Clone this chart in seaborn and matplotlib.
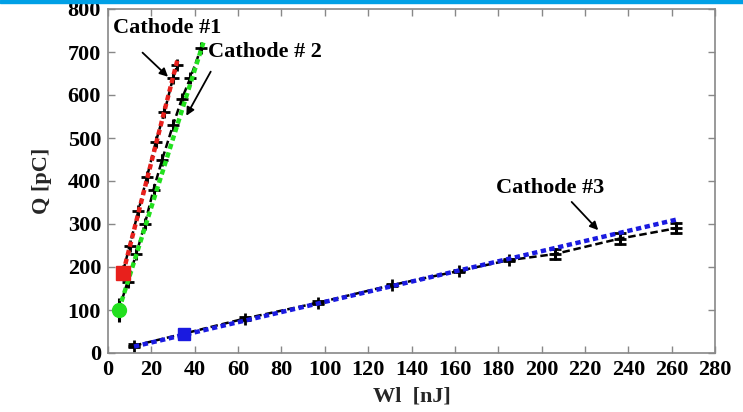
import matplotlib
matplotlib.use("Agg")
import matplotlib.pyplot as plt
import seaborn as sns
import pandas as pd
import numpy as np

# ---- data ----
c1_x = [7, 10, 14, 18, 22, 26, 30, 32]
c1_y = [190, 250, 330, 410, 490, 560, 640, 670]
c1_err = [8, 8, 8, 10, 10, 10, 10, 10]
c1_fit_x = [7, 32]
c1_fit_y = [187, 681]

c2_x = [5, 9, 13, 17, 21, 25, 30, 34, 38, 43]
c2_y = [100, 165, 230, 300, 380, 450, 530, 590, 640, 710]
c2_err = [28, 12, 12, 12, 12, 12, 12, 12, 12, 12]
c2_fit_x = [5, 44]
c2_fit_y = [100, 722]

c3_x = [12, 35, 63, 97, 131, 162, 185, 206, 236, 262]
c3_y = [17, 45, 80, 117, 158, 191, 216, 230, 266, 290]
c3_err = [3, 3, 3, 3, 3, 3, 3, 12, 12, 12]
c3_fit_x = [12, 262]
c3_fit_y = [15, 310]

x_ticks = list(range(0, 281, 20))
y_ticks = list(range(0, 801, 100))

sns.set_style("ticks")
plt.rcParams['font.family'] = ['Liberation Serif', 'DejaVu Serif']
plt.rcParams['font.weight'] = 'bold'

fig = plt.figure(figsize=(7.43, 4.12), dpi=100)
ax = fig.add_axes([108/743, 1-353/412, (715-108)/743, (353-9)/412])

# top blue strip
fig.patches.append(matplotlib.patches.Rectangle((0, 1-3/412), 1, 3/412,
                   transform=fig.transFigure, color='#00A0E6', zorder=10))

# measured data (black dashed, with error bars)
for xs, ys, es, cap in [(c1_x, c1_y, c1_err, 0), (c2_x, c2_y, c2_err, 0), (c3_x, c3_y, c3_err, 4)]:
    df = pd.DataFrame({'x': xs, 'y': ys})
    sns.lineplot(data=df, x='x', y='y', ax=ax, color='black', linestyle=(0, (3, 1.5)),
                 linewidth=1.8, marker='+', markersize=8, markeredgewidth=2,
                 markeredgecolor='black', zorder=2)
    ax.errorbar(xs, ys, yerr=es, fmt='none', ecolor='black', elinewidth=2.2,
                capsize=cap, capthick=2, zorder=2)

# fitted lines (coloured, dotted)
for fx, fy, col, mk in [(c1_fit_x, c1_fit_y, '#e8201c', 's'),
                        (c2_fit_x, c2_fit_y, '#22e01e', 'o'),
                        (c3_fit_x, c3_fit_y, '#1a1ae0', None)]:
    df = pd.DataFrame({'x': fx, 'y': fy})
    sns.lineplot(data=df, x='x', y='y', ax=ax, color=col, linestyle=(0, (1.2, 0.8)),
                 linewidth=3.2, zorder=3)
    if mk:
        ax.plot(fx[0], fy[0], marker=mk, color=col, markersize=10, zorder=4, linestyle='none')

# blue square marker on cathode 3
ax.plot(c3_x[1], c3_y[1], marker='s', color='#1a1ae0', markersize=9, zorder=4, linestyle='none')

ax.set_xlim(0, 280)
ax.set_ylim(0, 800)
ax.set_xticks(x_ticks)
ax.set_yticks(y_ticks)
ax.tick_params(direction='in', length=5, width=1, colors='#888888', top=True, right=True,
               labelsize=16, labelcolor='black', pad=5)
for lab in ax.get_xticklabels() + ax.get_yticklabels():
    lab.set_fontweight('bold')
for sp in ax.spines.values():
    sp.set_color('#888888')
    sp.set_linewidth(1.2)

ax.set_xlabel('Wl  [nJ]', fontsize=16, fontweight='bold', labelpad=5)
ax.set_ylabel('Q [pC]', fontsize=16, fontweight='bold', labelpad=11)

ann = dict(fontsize=16, fontweight='bold', color='black')
arrow = dict(arrowstyle='-|>', color='black', lw=1.3, mutation_scale=12)
ax.text(2.3, 756, 'Cathode #1', ha='left', va='center', **ann)
ax.annotate('', xy=(28.6, 638), xytext=(15, 703), arrowprops=arrow)
ax.text(46, 700, 'Cathode # 2', ha='left', va='center', **ann)
ax.annotate('', xy=(35.5, 546), xytext=(48, 660), arrowprops=arrow)
ax.text(179, 384, 'Cathode #3', ha='left', va='center', **ann)
ax.annotate('', xy=(227, 281), xytext=(213, 356), arrowprops=arrow)

fig.savefig('out.png', dpi=100)
